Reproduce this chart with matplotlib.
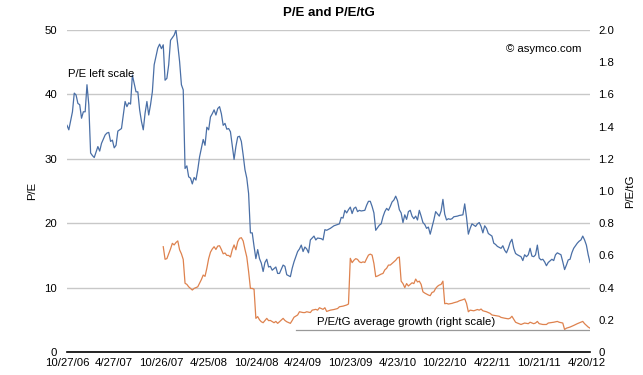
import matplotlib
matplotlib.use("Agg")
import matplotlib.pyplot as plt

plt.rcParams['font.family'] = ['Liberation Sans', 'DejaVu Sans']

# weeks since 10/27/06
pe_weeks = [0, 1, 3, 4, 5, 6, 7, 8, 9, 10, 11, 12, 13, 14, 15, 17, 18, 19, 21, 22,
            23, 24, 25, 26, 27, 28, 30, 31, 32, 33, 34, 35, 36, 37, 38, 39, 40, 41, 42, 43,
            44, 45, 46, 47, 48, 50, 51, 52, 53, 54, 55, 56, 57, 58, 59, 60, 61, 62, 63, 64,
            65, 66, 67, 68, 69, 70, 71, 72, 73, 75, 76, 77, 78, 79, 80, 81, 82, 83, 84, 85,
            86, 87, 88, 89, 90, 91, 92, 93, 94, 95, 96, 97, 98, 99, 100, 101, 102, 103, 104, 105,
            106, 107, 108, 109, 110, 111, 112, 113, 115, 116, 117, 119, 120, 121, 123, 124, 125, 127, 128, 129,
            130, 131, 132, 133, 134, 136, 137, 138, 140, 141, 142, 143, 145, 147, 149, 150, 151, 152, 153, 154,
            155, 156, 157, 158, 159, 160, 161, 162, 164, 165, 166, 167, 168, 169, 170, 171, 172, 173, 174, 175,
            176, 177, 178, 179, 180, 181, 182, 183, 184, 185, 186, 187, 188, 189, 190, 191, 192, 193, 194, 195,
            196, 197, 198, 199, 200, 201, 202, 203, 205, 206, 207, 208, 209, 210, 211, 212, 213, 215, 216, 218,
            219, 220, 221, 222, 223, 225, 226, 227, 228, 229, 230, 231, 232, 234, 235, 236, 237, 239, 240, 241,
            242, 243, 244, 245, 246, 247, 248, 250, 251, 252, 253, 254, 255, 256, 257, 258, 259, 260, 261, 262,
            263, 264, 265, 267, 268, 269, 270, 272, 273, 274, 275, 276, 277, 278, 279, 281, 282, 283, 284, 285,
            286, 287, 288]
pe = [35.2, 34.5, 37.3, 40.2, 39.9, 38.6, 38.4, 36.3, 37.3, 37.3, 41.5, 38.4, 30.9, 30.5, 30.2, 31.9, 31.2, 32.4, 33.7, 34.0,
      34.1, 32.7, 32.9, 31.7, 32.1, 34.3, 34.7, 36.8, 38.9, 38.1, 38.7, 38.5, 43.0, 41.7, 40.4, 40.4, 37.6, 35.8, 34.5, 37.1,
      38.9, 36.8, 38.4, 40.4, 44.6, 47.2, 47.8, 47.1, 47.7, 42.2, 42.5, 44.6, 48.4, 48.8, 49.2, 50.0, 47.7, 45.1, 41.5, 40.7,
      28.5, 28.9, 27.2, 27.0, 26.1, 27.1, 26.7, 28.3, 30.3, 33.0, 32.1, 34.9, 34.5, 36.5, 37.0, 37.6, 36.8, 37.8, 38.1, 37.0,
      35.2, 35.5, 34.6, 34.7, 34.2, 32.1, 29.9, 31.9, 33.4, 33.5, 32.7, 30.6, 28.3, 27.0, 24.6, 18.5, 18.5, 16.4, 14.5, 15.9,
      14.5, 13.8, 12.5, 13.9, 14.4, 13.2, 13.3, 12.7, 13.2, 12.2, 12.2, 13.5, 13.3, 12.0, 11.7, 13.0, 14.0, 15.6, 16.0, 16.6,
      15.6, 16.3, 16.0, 15.4, 17.4, 18.0, 17.4, 17.7, 17.6, 17.4, 19.0, 18.9, 19.2, 19.6, 19.8, 19.9, 20.9, 20.8, 22.0, 21.6,
      22.1, 22.5, 21.5, 22.3, 22.5, 21.8, 22.0, 21.9, 22.0, 22.8, 23.4, 23.4, 22.6, 21.6, 18.9, 19.3, 19.7, 19.9, 21.0, 21.8,
      22.3, 22.0, 22.6, 23.3, 23.6, 24.2, 23.5, 22.1, 21.6, 20.1, 21.3, 20.6, 21.8, 22.0, 21.1, 20.7, 21.1, 20.5, 22.0, 21.1,
      20.1, 19.8, 19.2, 19.4, 18.3, 19.4, 20.5, 21.8, 21.1, 21.9, 23.7, 21.4, 20.5, 20.7, 20.6, 20.7, 21.0, 21.1, 21.2, 21.3,
      23.0, 20.9, 18.3, 19.2, 19.9, 19.5, 19.9, 20.1, 19.5, 18.5, 19.6, 19.2, 18.4, 18.0, 16.9, 16.7, 16.4, 16.1, 16.5, 15.8,
      15.4, 16.1, 17.0, 17.5, 16.1, 15.3, 15.1, 14.8, 14.2, 15.1, 14.8, 15.1, 16.1, 14.9, 14.8, 15.1, 16.6, 14.6, 14.3, 14.4,
      14.0, 13.4, 13.9, 14.4, 14.2, 15.1, 15.4, 15.1, 14.0, 12.8, 13.5, 14.3, 14.4, 15.4, 16.1, 16.9, 17.2, 17.4, 18.0, 17.4,
      16.6, 15.1, 13.9]

petg_weeks = [53, 54, 55, 56, 57, 58, 59, 60, 61, 62, 63, 64, 65, 66, 67, 68, 69, 70, 72, 73,
              74, 75, 76, 77, 78, 79, 80, 81, 82, 83, 84, 85, 86, 87, 88, 89, 90, 91, 92, 93,
              94, 95, 96, 97, 98, 99, 100, 101, 102, 103, 104, 105, 106, 107, 108, 109, 110, 111, 112, 114,
              115, 116, 117, 119, 120, 121, 123, 124, 125, 127, 128, 130, 131, 132, 134, 135, 137, 138, 139, 141,
              142, 143, 145, 147, 149, 150, 152, 154, 155, 156, 157, 158, 159, 160, 161, 162, 163, 164, 165, 166,
              167, 168, 169, 170, 171, 172, 173, 174, 175, 176, 177, 178, 179, 180, 181, 182, 183, 184, 185, 186,
              187, 188, 189, 190, 191, 192, 193, 194, 195, 196, 197, 198, 199, 200, 201, 202, 203, 204, 205, 206,
              207, 208, 209, 210, 212, 213, 215, 216, 218, 219, 220, 221, 222, 224, 226, 227, 228, 229, 231, 233,
              234, 236, 238, 239, 241, 243, 244, 245, 247, 248, 250, 252, 254, 255, 257, 258, 259, 260, 262, 264,
              265, 268, 270, 271, 273, 274, 275, 277, 279, 281, 283, 284, 285, 287, 288]
petg = [0.654, 0.576, 0.58, 0.61, 0.64, 0.675, 0.665, 0.68, 0.69, 0.635, 0.61, 0.575, 0.427, 0.42, 0.405, 0.395, 0.385, 0.395, 0.405, 0.427,
        0.45, 0.478, 0.47, 0.52, 0.58, 0.62, 0.64, 0.654, 0.637, 0.658, 0.66, 0.637, 0.61, 0.615, 0.6, 0.6, 0.59, 0.635, 0.665, 0.635,
        0.685, 0.706, 0.71, 0.69, 0.637, 0.59, 0.5, 0.395, 0.395, 0.39, 0.209, 0.22, 0.2, 0.188, 0.182, 0.196, 0.209, 0.195, 0.196, 0.182,
        0.19, 0.178, 0.188, 0.209, 0.196, 0.188, 0.178, 0.196, 0.216, 0.23, 0.25, 0.245, 0.245, 0.25, 0.245, 0.26, 0.265, 0.26, 0.275, 0.265,
        0.275, 0.252, 0.26, 0.264, 0.27, 0.281, 0.285, 0.292, 0.298, 0.582, 0.555, 0.57, 0.58, 0.575, 0.56, 0.555, 0.56, 0.556, 0.58, 0.602,
        0.608, 0.602, 0.55, 0.468, 0.472, 0.478, 0.484, 0.488, 0.51, 0.52, 0.54, 0.54, 0.55, 0.56, 0.57, 0.585, 0.59, 0.44, 0.425, 0.4,
        0.425, 0.41, 0.42, 0.43, 0.425, 0.453, 0.435, 0.44, 0.42, 0.374, 0.366, 0.36, 0.354, 0.35, 0.37, 0.374, 0.395, 0.408, 0.416, 0.42,
        0.44, 0.3, 0.302, 0.298, 0.302, 0.306, 0.312, 0.318, 0.325, 0.33, 0.302, 0.25, 0.26, 0.256, 0.264, 0.26, 0.267, 0.256, 0.25, 0.24,
        0.23, 0.226, 0.222, 0.215, 0.21, 0.206, 0.21, 0.222, 0.185, 0.18, 0.171, 0.18, 0.176, 0.185, 0.176, 0.18, 0.19, 0.176, 0.171, 0.171,
        0.18, 0.185, 0.19, 0.185, 0.18, 0.14, 0.148, 0.155, 0.165, 0.176, 0.185, 0.19, 0.176, 0.155, 0.148]

tick_weeks = [0, 26, 52, 78, 104, 130, 156, 182, 208, 234, 260, 286]
tick_labels = ['10/27/06', '4/27/07', '10/26/07', '4/25/08', '10/24/08', '4/24/09',
               '10/23/09', '4/23/10', '10/22/10', '4/22/11', '10/21/11', '4/20/12']

# callout rule under the right-scale label
callout_weeks = [126, 288]
callout_level = [0.137, 0.137]

blue = '#4a6fa6'
orange = '#de824e'

fig = plt.figure(figsize=(6.43, 3.75), dpi=100)
ax = fig.add_axes([0.1042, 0.0613, 0.8134, 0.8587])
ax2 = ax.twinx()

ax.plot(pe_weeks, pe, color=blue, lw=0.9)
ax2.plot(petg_weeks, petg, color=orange, lw=0.9)
ax2.plot(callout_weeks, callout_level, color='#999999', lw=0.9)

ax.set_xlim(0, 288)
ax.set_ylim(0, 50)
ax2.set_ylim(0, 2.0)
ax.set_yticks([0, 10, 20, 30, 40, 50])
ax2.set_yticks([0, 0.2, 0.4, 0.6, 0.8, 1.0, 1.2, 1.4, 1.6, 1.8, 2.0])
ax2.set_yticklabels(['0', '0.2', '0.4', '0.6', '0.8', '1.0', '1.2', '1.4', '1.6', '1.8', '2.0'])
ax.set_xticks(tick_weeks)
ax.set_xticklabels(tick_labels)

ax.grid(axis='y', color='#c8c8c8', lw=1)
ax.set_axisbelow(True)
for a in (ax, ax2):
    for s in ['top', 'left', 'right', 'bottom']:
        a.spines[s].set_visible(False)
    a.tick_params(length=0, labelsize=8.2)
ax.spines['bottom'].set_visible(True)
ax.spines['bottom'].set_color('black')
ax.spines['bottom'].set_linewidth(1.2)
ax.tick_params(axis='y', pad=7)
ax2.tick_params(axis='y', pad=6)
ax.tick_params(axis='x', pad=4)

ax.set_ylabel('P/E', fontsize=8.2, labelpad=5)
ax2.set_ylabel('P/E/tG', fontsize=8.2, labelpad=8)
ax.set_title('P/E and P/E/tG', fontsize=9.5, fontweight='bold', pad=10)

ax.text(0.002, 0.863, 'P/E left scale', transform=ax.transAxes, fontsize=8.2, va='center')
ax.text(0.478, 0.093, 'P/E/tG average growth (right scale)', transform=ax.transAxes, fontsize=8.2, va='center')
ax.text(0.984, 0.94, '\u00a9 asymco.com', transform=ax.transAxes, fontsize=8.2, va='center', ha='right')

fig.savefig('out.png', dpi=100)
